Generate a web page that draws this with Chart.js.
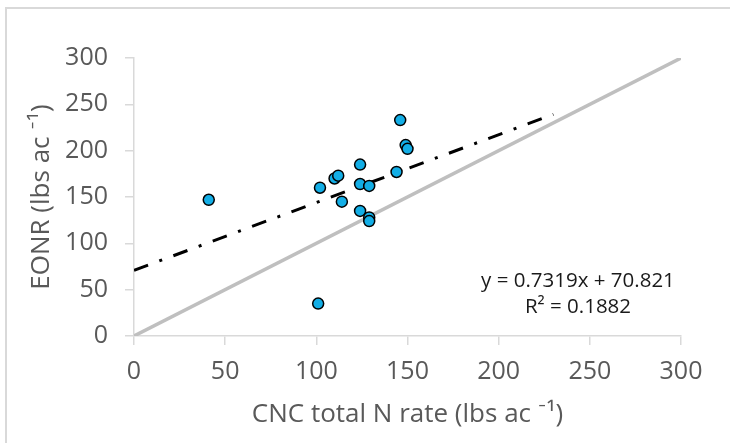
<!DOCTYPE html>
<html>
<head>
<meta charset="utf-8">
<script src="https://cdn.jsdelivr.net/npm/chart.js@4.4.1/dist/chart.umd.min.js"></script>
<style>
  html, body { margin: 0; padding: 0; background: #fff; }
  #wrap { position: relative; width: 730px; height: 443px; }
</style>
</head>
<body>
<div id="wrap"><canvas id="eonrChart" width="730" height="443"></canvas></div>
<script>
// CNC total N rate vs. EONR, one point per site-year
const nRate = [41, 102, 101, 110, 112, 114, 124, 124, 129, 124, 129, 129, 144, 146, 149, 150];
const eonr  = [147, 160, 35, 170, 173, 145, 185, 164, 162, 135, 128, 124, 177, 233, 206, 202];

// linear fit reported for the data
const slope = 0.7319;
const intercept = 70.821;
const r2 = 0.1882;
const fitRange = [0, 230];

// 1:1 reference line
const oneToOne = [0, 300];

const axisTicks = [0, 50, 100, 150, 200, 250, 300];

const points = nRate.map((x, i) => ({ x: x, y: eonr[i] }));
const fitLine = fitRange.map(x => ({ x: x, y: slope * x + intercept }));
const refLine = oneToOne.map(v => ({ x: v, y: v }));

const axisGray = '#d9d9d9';
const labelGray = '#595959';
const fontFamily = '"Open Sans", Lato, sans-serif';

// white background plus the outer frame
const framePlugin = {
  id: 'frame',
  beforeDraw(chart) {
    const ctx = chart.ctx;
    ctx.save();
    ctx.fillStyle = '#fff';
    ctx.fillRect(0, 0, chart.width, chart.height);
    ctx.strokeStyle = axisGray;
    ctx.lineWidth = 2;
    ctx.strokeRect(6, 8, chart.width + 20, chart.height + 20);
    ctx.restore();
  }
};

// fit equation and R² next to the line
const equationPlugin = {
  id: 'equation',
  afterDatasetsDraw(chart) {
    const ctx = chart.ctx;
    const xs = chart.scales.x, ys = chart.scales.y;
    const cx = xs.getPixelForValue(243.5);
    ctx.save();
    ctx.fillStyle = '#1a1a1a';
    ctx.font = '20.5px ' + fontFamily;
    ctx.textAlign = 'center';
    ctx.textBaseline = 'middle';
    ctx.fillText('y = ' + slope + 'x + ' + intercept, cx, ys.getPixelForValue(59.5));
    ctx.fillText('R² = ' + r2, cx, ys.getPixelForValue(31.5));
    ctx.restore();
  }
};

const axisCommon = {
  type: 'linear',
  min: 0,
  max: 300,
  afterBuildTicks(scale) {
    scale.ticks = axisTicks.map(v => ({ value: v }));
  },
  grid: { drawOnChartArea: false, drawTicks: true, tickLength: 9, color: axisGray, lineWidth: 1.5 },
  border: { color: axisGray, width: 1.5 }
};

new Chart(document.getElementById('eonrChart'), {
  type: 'scatter',
  data: {
    datasets: [
      {
        data: points,
        backgroundColor: '#13aee6',
        borderColor: '#000',
        borderWidth: 1.5,
        pointRadius: 5.5,
        pointHoverRadius: 5.5,
        order: 0
      },
      {
        type: 'line',
        data: fitLine,
        borderColor: '#000',
        borderWidth: 3,
        borderDash: [15, 12, 3, 12],
        pointRadius: 0,
        fill: false,
        order: 1
      },
      {
        type: 'line',
        data: refLine,
        borderColor: '#bfbfbf',
        borderWidth: 3.5,
        pointRadius: 0,
        fill: false,
        order: 2
      }
    ]
  },
  options: {
    responsive: false,
    animation: false,
    devicePixelRatio: 1,
    layout: { padding: { top: 58, right: 49, bottom: 0, left: 0 } },
    plugins: { legend: { display: false }, tooltip: { enabled: false } },
    scales: {
      x: Object.assign({}, axisCommon, {
        position: 'bottom',
        afterFit(scale) { scale.height = 107; },
        ticks: { color: labelGray, font: { family: fontFamily, size: 25 }, padding: 12, maxRotation: 0 },
        title: {
          display: true,
          text: 'CNC total N rate (lbs ac ⁻¹)',
          color: labelGray,
          font: { family: fontFamily, size: 26 },
          padding: { top: 0, bottom: 13 }
        }
      }),
      y: Object.assign({}, axisCommon, {
        position: 'left',
        afterFit(scale) { scale.width = 134; },
        ticks: { color: labelGray, font: { family: fontFamily, size: 25 }, padding: 17 },
        title: {
          display: true,
          text: 'EONR (lbs ac ⁻¹)',
          color: labelGray,
          font: { family: fontFamily, size: 26 },
          padding: { top: 26, bottom: 0 }
        }
      })
    }
  },
  plugins: [framePlugin, equationPlugin]
});
</script>
</body>
</html>
